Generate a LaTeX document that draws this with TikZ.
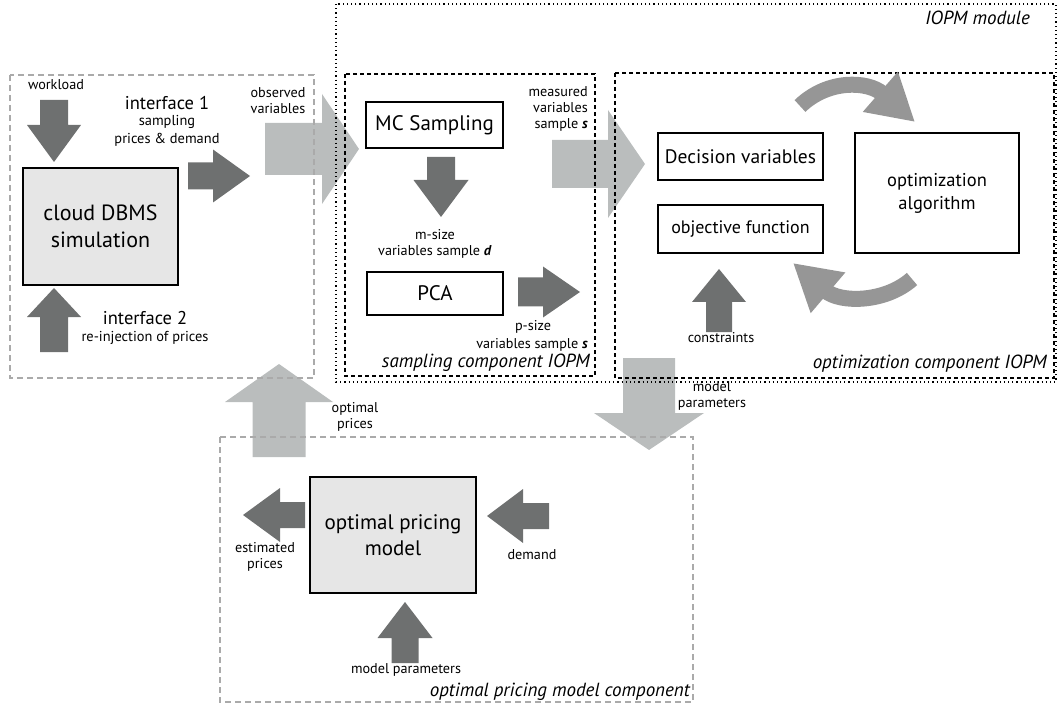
\documentclass[tikz,border=0pt]{standalone}
\usepackage{fontspec}
\setmainfont{PT Sans}
\usetikzlibrary{arrows.meta}
\definecolor{darkarr}{RGB}{110,112,112}
\definecolor{lightarr}{RGB}{186,189,189}
\definecolor{curvarr}{RGB}{150,150,150}
\definecolor{boxfill}{RGB}{230,230,230}
\definecolor{grayline}{RGB}{170,170,170}
% horizontal block arrow: colour, x tail, x head base, x tip, y centre, shaft half, head half
\newcommand{\harr}[7]{\fill[#1] (#2,#5-#6) -- (#3,#5-#6) -- (#3,#5-#7) -- (#4,#5) -- (#3,#5+#7) -- (#3,#5+#6) -- (#2,#5+#6) -- cycle;}
% vertical block arrow: colour, y tail, y head base, y tip, x centre, shaft half, head half
\newcommand{\varr}[7]{\fill[#1] (#5-#6,#2) -- (#5-#6,#3) -- (#5-#7,#3) -- (#5,#4) -- (#5+#7,#3) -- (#5+#6,#3) -- (#5+#6,#2) -- cycle;}
\begin{document}
\begin{tikzpicture}[x=1pt,y=-1pt,
  blockbox/.style={draw=black, line width=1.8pt, inner sep=0pt, align=center, font=\fontsize{21}{26}\selectfont},
  fillbox/.style={blockbox, fill=boxfill},
  grayregion/.style={draw=grayline, line width=1.2pt, dash pattern=on 6pt off 4pt},
  blackregion/.style={draw=black, line width=1.5pt, dash pattern=on 4pt off 3pt},
  dotregion/.style={draw=black, line width=1.1pt, dash pattern=on 1.2pt off 3pt},
  lbl/.style={font=\fontsize{14.2}{16}\selectfont, align=center, inner sep=0pt},
  midlbl/.style={font=\fontsize{14.4}{18}\selectfont, align=center, inner sep=0pt},
  biglbl/.style={font=\fontsize{18.5}{20}\selectfont, align=center, inner sep=0pt},
  regionlbl/.style={font=\fontsize{19}{22}\selectfont\itshape, anchor=east, inner sep=0pt},
  curved/.style={draw=curvarr, line width=16pt, -{Triangle[length=46pt,width=50pt]}}
]
\useasboundingbox (0,0) rectangle (1060,711);

% ---- block arrows (drawn first, lines pass over them)
\varr{darkarr}{100}{125}{162}{54}{14}{27}
\harr{darkarr}{188}{213}{250}{176}{13.5}{26.5}
\harr{lightarr}{265}{322}{359}{149}{26}{55}
\varr{darkarr}{352}{317}{288}{54}{14}{27}
\varr{darkarr}{157}{180}{217}{441}{14}{27.5}
\harr{darkarr}{518}{543}{580}{292}{14.5}{25.5}
\harr{lightarr}{552}{608}{645}{164}{24}{54}
\varr{darkarr}{332}{302}{269}{719}{13}{27}
\varr{lightarr}{358}{413}{450}{649}{26}{55}
\varr{lightarr}{457}{402}{364}{279}{26.5}{54}
\harr{darkarr}{305}{280}{243}{515}{13}{27}
\harr{darkarr}{549}{523}{487}{516}{13}{27}
\varr{darkarr}{663}{638}{602}{405}{13.5}{27.5}

% ---- region frames
\draw[dotregion] (336,4) rectangle (1056,382);
\draw[grayregion] (10,75) rectangle (314,378);
\draw[blackregion] (345,74) rectangle (595,376);
\draw[blackregion] (615,73) rectangle (1054,378);
\draw[grayregion] (220,437) rectangle (693,702);

% ---- boxes
\node[fillbox, minimum width=155pt, minimum height=117pt, font=\fontsize{22}{27}\selectfont] (cloud) at (100.5,226.5) {cloud DBMS\\simulation};
\node[blockbox, minimum width=137pt, minimum height=46pt] (mc) at (434.5,125) {MC Sampling};
\node[blockbox, minimum width=136pt, minimum height=43pt] (pca) at (435,293.5) {PCA};
\node[blockbox, minimum width=165pt, minimum height=47pt, font=\fontsize{19.5}{22}\selectfont] (dec) at (740.5,156.5) {Decision variables};
\node[blockbox, minimum width=165pt, minimum height=48pt, font=\fontsize{18}{22}\selectfont] (obj) at (740.5,229) {objective function};
\node[blockbox, minimum width=164pt, minimum height=120pt, font=\fontsize{18.5}{23}\selectfont] (alg) at (937,193) {optimization\\algorithm};
\node[fillbox, minimum width=166pt, minimum height=116pt] (price) at (393,535) {optimal pricing\\model};

% ---- curved arrows of the optimisation loop
\coordinate (loopA) at (800,106);
\coordinate (loopB) at (915,122);
\coordinate (loopC) at (912,279);
\coordinate (loopD) at (793,263);
\draw[curved] (loopA) .. controls (828,79) and (868,81) .. (loopB);
\draw[curved] (loopC) .. controls (885,303) and (840,303) .. (loopD);

% ---- labels
\node[lbl] (workload) at (56,85) {workload};
\node[biglbl] (if1) at (167,103) {interface 1};
\node[midlbl] (if1b) at (167,131) {sampling\\prices \& demand};
\node[lbl] (obs) at (278,101) {observed\\variables};
\node[biglbl] (if2) at (145,318) {interface 2};
\node[midlbl] (if2b) at (145,338) {re-injection of prices};
\node[lbl, align=right, anchor=east] (meas) at (588,109) {measured\\variables\\sample \textbf{\textit{s}}};
\node[lbl] (msize) at (435,244) {m-size\\variables sample \textbf{\textit{d}}};
\node[lbl] (psize1) at (533,327) {p-size};
\node[lbl, anchor=east] (psize2) at (588,345) {variables sample \textbf{\textit{s}}};
\node[lbl] (constr) at (721,338) {constraints};
\node[lbl] (mparam) at (712,396) {model\\parameters};
\node[lbl] (optp) at (355,417) {optimal\\prices};
\node[lbl] (estp) at (265,557) {estimated\\prices};
\node[lbl] (dem) at (532,555) {demand};
\node[lbl] (mparam2) at (406,670) {model parameters};

\node[regionlbl] (lmod) at (1030,18) {IOPM module};
\node[regionlbl] (lsamp) at (590,363) {sampling component IOPM};
\node[regionlbl] (lopt) at (1047,364) {optimization component IOPM};
\node[regionlbl] (lprice) at (690,692) {optimal pricing model component};
\end{tikzpicture}
\end{document}
